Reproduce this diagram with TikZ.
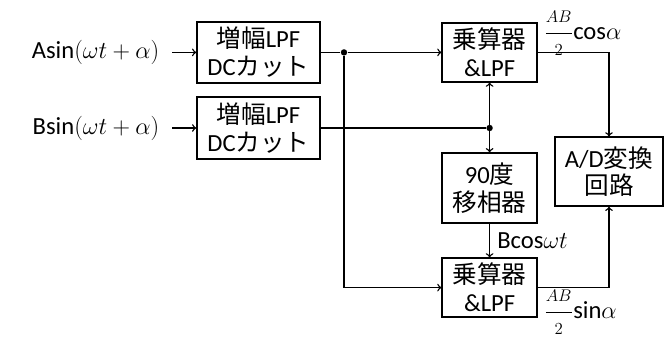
\documentclass[tikz,border=0pt]{standalone}
\usepackage{amsmath,amssymb}
\usepackage{fontspec}
\setmainfont{Carlito}
\newfontfamily\jpfont{Noto Sans CJK JP}
\newcommand{\jp}[1]{{\jpfont #1}}
\newcommand{\half}{\dfrac{\scriptstyle AB}{\scriptstyle 2}}
\usepackage{tikz}
\usetikzlibrary{arrows,positioning}

\begin{document}
\begin{tikzpicture}[
    font=\fontsize{17.5}{19.8}\selectfont,
    line width=1pt,
    blk/.style={draw, align=center, inner sep=0pt, line width=1pt},
    dot/.style={circle, fill, inner sep=0pt, minimum size=0.16cm}
]
\useasboundingbox (0,0) rectangle (16.6,8.4);
% Blocks
\node[blk, minimum width=3.075cm, minimum height=1.525cm] (amp1) at (6.46,7.09) {\jp{増幅}LPF\\DC\jp{カット}};
\node[blk, minimum width=3.075cm, minimum height=1.55cm] (amp2) at (6.46,5.2) {\jp{増幅}LPF\\DC\jp{カット}};
\node[blk, minimum width=2.375cm, minimum height=1.475cm] (mul1) at (12.24,7.09) {\jp{乗算器}\\\&LPF};
\node[blk, minimum width=2.375cm, minimum height=1.75cm] (shift) at (12.24,3.7) {90\jp{度}\\\jp{移相器}};
\node[blk, minimum width=2.375cm, minimum height=1.475cm] (mul2) at (12.24,1.21) {\jp{乗算器}\\\&LPF};
\node[blk, minimum width=2.7cm, minimum height=1.725cm] (adc) at (15.225,4.11) {A/D\jp{変換}\\\jp{回路}};
% Inputs
\node[left, inner sep=0.3cm] (inA) at (4.3,7.09) {Asin$(\omega t+\alpha)$};
\node[left, inner sep=0.3cm] (inB) at (4.3,5.2) {Bsin$(\omega t+\alpha)$};
\draw[->] (inA) -- (amp1);
\draw[->] (inB) -- (amp2);
% Junctions
\node[dot] (j1) at (8.6,7.09) {};
\node[dot] (j2) at (12.24,5.2) {};
\coordinate (c1) at (8.6,1.21);
% Signal lines
\draw (amp1.east) -- (j1);
\draw[->] (j1) -- (mul1.west);
\draw (amp2.east) -- (j2);
\draw (j1) -- (c1);
\draw[->] (c1) -- (mul2.west);
\draw[<->] (mul1.south) -- (shift.north);
\draw[->] (shift.south) -- node[right, inner sep=5pt] (bcos) {Bcos$\omega t$} (mul2.north);
% Outputs
\draw[->] (mul1.east) -| (adc.north);
\draw[->] (mul2.east) -| (adc.south);
\node[above right, inner sep=1pt] (outc) at (13.55,6.95) {$\half$cos$\alpha$};
\node[below right, inner sep=1pt] (outs) at (13.55,1.2) {$\half$sin$\alpha$};
\end{tikzpicture}
\end{document}
